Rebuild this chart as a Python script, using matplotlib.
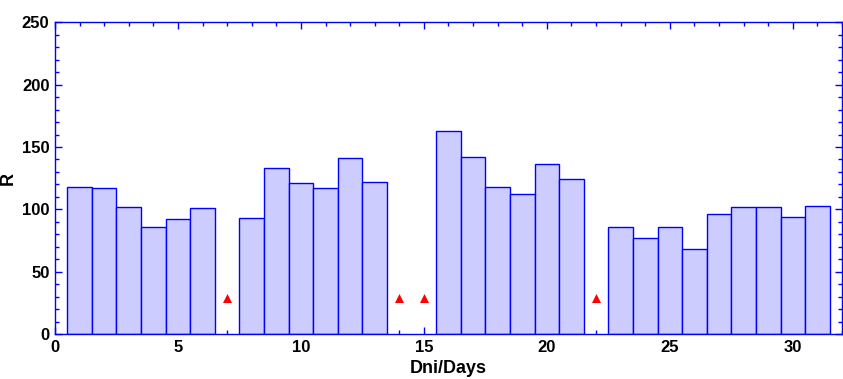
import matplotlib
matplotlib.use("Agg")
import matplotlib.pyplot as plt
from matplotlib.ticker import MultipleLocator

days = [1, 2, 3, 4, 5, 6, 8, 9, 10, 11, 12, 13, 16, 17, 18, 19, 20, 21,
        23, 24, 25, 26, 27, 28, 29, 30, 31]
values = [118, 117, 102, 86, 92, 101, 93, 133, 121, 117, 141, 122, 163, 142,
          118, 112, 136, 124, 86, 77, 86, 68, 96, 102, 102, 94, 102.5]
missing_days = [7, 14, 15, 22]
missing_values = [29, 29, 29, 29]

plt.rcParams['font.family'] = ['Liberation Sans', 'DejaVu Sans']
plt.rcParams['font.weight'] = 'bold'

fig = plt.figure(figsize=(8.43, 3.79), dpi=100)
ax = fig.add_axes([0.0652, 0.1187, 0.9336, 0.8223])

blue = '#0000FF'
ax.bar(days, values, width=1.0, color='#CCCCFF', edgecolor=blue, linewidth=1.0, zorder=1)
ax.scatter(missing_days, missing_values, marker='^', color='red', s=42, zorder=3, linewidths=0)

ax.set_xlim(0, 32)
ax.set_ylim(0, 250)
ax.xaxis.set_major_locator(MultipleLocator(5))
ax.xaxis.set_minor_locator(MultipleLocator(1))
ax.yaxis.set_major_locator(MultipleLocator(50))
ax.yaxis.set_minor_locator(MultipleLocator(10))
ax.set_axisbelow(True)

ax.tick_params(which='both', direction='in', top=True, right=True, color=blue,
               width=1.0, labelsize=12, labelcolor='black')
ax.tick_params(which='major', length=5, pad=4)
ax.tick_params(which='minor', length=3)
for lab in ax.get_xticklabels() + ax.get_yticklabels():
    lab.set_fontweight('bold')

for s in ax.spines.values():
    s.set_color(blue)
    s.set_linewidth(1.0)

ax.set_xlabel('Dni/Days', fontsize=13, fontweight='bold', labelpad=4)
ax.set_ylabel('R', fontsize=13, fontweight='bold')
ax.yaxis.set_label_coords(-0.048, 0.5)

fig.savefig('out.png', dpi=100)
